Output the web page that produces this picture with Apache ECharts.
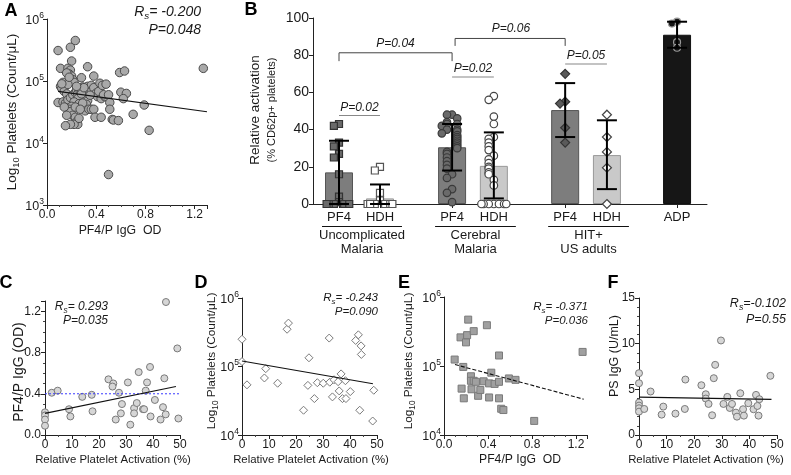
<!DOCTYPE html>
<html><head><meta charset="utf-8">
<script src="https://cdn.jsdelivr.net/npm/echarts@6/dist/echarts.min.js"></script>
<style>html,body{margin:0;padding:0;background:#fff}#c{width:791px;height:475px}</style>
</head><body><div id="c"></div>
<script>
// ---------------- DATA ----------------
// Panel A: PF4/P IgG OD vs platelets (count/uL)
const aPoints = [[0.09,3.1e5],[0.23,4.5e5],[0.19,3.5e5],[0.20,2.1e5],[0.11,1.6e5],[0.17,1.6e5],[0.19,1.5e5],[0.18,1.3e5],[0.20,1.2e5],[0.21,1.05e5],[0.19,1.0e5],[0.22,9.5e4],[0.13,9.5e4],[0.11,8.2e4],[0.12,7.6e4],[0.14,6.8e4],[0.16,6.2e4],[0.09,4.5e4],[0.13,4.6e4],[0.15,4.4e4],[0.17,5.0e4],[0.19,5.4e4],[0.21,6.0e4],[0.23,6.5e4],[0.24,7.2e4],[0.26,7.0e4],[0.25,6.2e4],[0.27,6.8e4],[0.29,8.0e4],[0.31,7.5e4],[0.33,8.2e4],[0.30,6.4e4],[0.28,5.6e4],[0.25,5.2e4],[0.22,4.6e4],[0.20,3.9e4],[0.18,3.5e4],[0.19,3.2e4],[0.21,2.8e4],[0.23,2.6e4],[0.24,2.2e4],[0.25,2.0e4],[0.22,2.0e4],[0.19,2.0e4],[0.15,1.9e4],[0.26,2.5e4],[0.28,1.13e5],[0.33,1.7e5],[0.38,1.2e5],[0.36,8.5e4],[0.34,6.6e4],[0.32,5.5e4],[0.33,4.8e4],[0.32,4.2e4],[0.31,3.3e4],[0.34,3.5e4],[0.36,3.5e4],[0.38,3.5e4],[0.39,2.6e4],[0.44,2.6e4],[0.36,6.8e4],[0.38,7.8e4],[0.40,6.4e4],[0.41,5.6e4],[0.42,6.8e4],[0.43,9.2e4],[0.44,5.2e4],[0.45,8.5e4],[0.47,5.6e4],[0.48,8.9e4],[0.46,6.0e4],[0.50,6.0e4],[0.51,4.5e4],[0.51,3.5e4],[0.53,2.4e4],[0.54,2.35e4],[0.58,2.3e4],[0.50,3.1e3],[0.59,1.37e5],[0.63,1.45e5],[0.60,6.6e4],[0.645,6.3e4],[0.62,5.2e4],[0.70,2.9e4],[0.79,4.1e4],[0.83,1.6e4],[1.27,1.6e5],[0.27,7.6e4],[0.28,6.2e4],[0.30,7.8e4],[0.26,4.3e4],[0.23,3.8e4],[0.35,5.9e4],[0.29,4.4e4],[0.17,8.8e4],[0.16,1.35e5],[0.18,1.15e5],[0.24,8.2e4],[0.14,3.8e4],[0.16,2.8e4],[0.27,3.5e4],[0.12,9.0e4]];
const aFit = [[0.09,6.8e4],[1.3,3.2e4]];
const aStats = ['-0.200','0.048'];

// Panel B: relative activation (% CD62p+ platelets)
const bCategories = ['PF4','HDH','PF4','HDH','PF4','HDH','ADP'];
const bGroups = [['Uncomplicated','Malaria'],['Cerebral','Malaria'],['HIT+','US adults']];
const bMeans = [17, 3, 30.5, 20.5, 50.5, 26.3, 91];
const bErrLow = [0, 0, 18, 3, 36, 8, 84];
const bErrHigh = [34, 10.5, 43, 38.5, 65, 45, 98];
const bPF4UM = [43, 42, 33, 31, 27, 25, 16, 4, 1, 0, 0, 0, 0, 0];
const bHDHUM = [20, 18, 6, 2, 0, 0, 0, 0, 0, 0, 0];
const bPF4CM = [48, 48, 46, 44, 43, 43, 42, 40, 40, 39, 38, 37, 36, 35, 34, 33, 32, 31, 30, 28, 27, 25, 23, 21, 19, 16, 14, 8, 6, 1];
const bHDHCM = [58, 56, 47, 43, 36, 35, 33, 31, 29, 26, 24, 22, 20, 19, 17, 16, 13, 10, 0, 0, 0, 0, 0, 0, 0];
const bPF4HIT = [70, 55, 54, 41, 33];
const bHDHHIT = [48, 36, 28, 19.5, 0];
const bADP = [98, 97, 87, 84];
const bPvalues = ['0.04','0.06','0.02','0.02','0.05'];

// Panel C: relative platelet activation (%) vs PF4/P IgG OD
const cPoints = [[0,0.22],[0,0.19],[0,0.15],[0,0.09],[2.5,0.41],[4.7,0.43],[8.9,0.25],[9.4,0.18],[13.8,0.37],[17.3,0.39],[17.6,0.23],[23.5,0.54],[25.3,0.5],[25,0.47],[26.2,0.15],[27.4,0.41],[28.5,0.30],[28.1,0.21],[30.7,0.51],[31.6,0.10],[33,0.26],[33,0.21],[34,0.31],[34.7,0.61],[36.3,0.25],[36.7,0.25],[37.3,0.43],[37.8,0.51],[38.9,0.66],[39.1,0.18],[40.7,0.34],[42.8,0.15],[43.7,0.27],[44.2,0.55],[44.7,0.20],[44.8,1.29],[49,0.84],[49.4,0.16]];
const cFit = [[0,0.21],[48.5,0.47]];
const cCutoff = 0.4;
const cStats = ['0.293','0.035'];

// Panel D: relative platelet activation (%) vs platelets
const dPoints = [[0,2.5e5],[0,1.18e5],[1.85,5.4e4],[8.3,6.8e4],[8.8,9.3e4],[13.2,5.7e4],[16.7,3.5e5],[17.2,4.3e5],[22.8,2.3e4],[24.4,5.3e4],[24.8,1.34e5],[26.8,3.4e4],[27.9,5.8e4],[30.1,5.7e4],[32.3,2.6e5],[32.5,5.9e4],[33.5,3.6e4],[34.1,6.4e4],[35.6,6.0e4],[36,4.4e4],[36.7,7.8e4],[37.2,3.4e4],[38.5,3.4e4],[38.3,6.2e4],[40.1,4.3e4],[42.1,2.4e5],[43.1,2.9e5],[43.6,2.3e4],[44.1,2.0e5],[44.2,1.5e5],[48.8,4.5e4],[48.4,1.6e4]];
const dFit = [[0,1.2e5],[48.5,5.6e4]];
const dStats = ['-0.243','0.090'];

// Panel E: PF4/P IgG OD vs platelets
const ePoints = [[0.097,1.24e5],[0.15,2.6e5],[0.20,2.2e5],[0.21,2.8e5],[0.22,4.7e5],[0.27,3.2e5],[0.39,3.9e5],[0.175,9.7e4],[0.16,4.7e4],[0.18,3.4e4],[0.245,7.1e4],[0.245,6.1e4],[0.27,6.1e4],[0.29,5.9e4],[0.25,4.6e4],[0.31,3.7e4],[0.33,4.5e4],[0.36,6.0e4],[0.41,5.6e4],[0.41,3.5e4],[0.43,8.0e4],[0.46,5.5e4],[0.50,5.9e4],[0.50,1.42e5],[0.50,3.4e4],[0.52,2.4e4],[0.54,2.3e4],[0.59,6.6e4],[0.65,6.3e4],[0.82,1.6e4],[1.26,1.6e5]];
const eFit = [[0.1,1.05e5],[1.27,3.3e4]];
const eStats = ['-0.371','0.036'];

// Panel F: relative platelet activation (%) vs PS IgG (U/mL)
const fPoints = [[0,6.77],[0,5.67],[0,3.55],[0,3.22],[0,2.93],[0,2.56],[1.9,2.85],[4.2,4.76],[8.2,2.23],[8.8,3.11],[13.2,2.34],[16.8,6.07],[16.6,2.85],[22.6,5.45],[24.2,4.46],[24.2,3.99],[25.2,3.40],[26.5,2.16],[27.1,6.22],[27.6,7.68],[29.7,10.35],[30.6,3.40],[32,4.17],[32.9,2.96],[33.7,3.40],[35.1,2.45],[35.5,2.01],[36.7,4.57],[37.7,2.82],[38,2.12],[39.6,3.48],[41.5,2.82],[42.4,4.39],[42.9,3.18],[43.3,2.12],[43.6,3.92],[47.6,6.48]];
const fFit = [[0,4.15],[48,3.9]];
const fStats = ['-0.102','0.55'];

// ---------------- LAYOUT / STYLE ----------------
const FF = '"Liberation Sans", Arial, Helvetica, sans-serif';
const TXT = '#1a1a1a';
const bPos = [0.66, 1.70, 3.53, 4.59, 6.40, 7.46, 9.24]; // slot layout on B's x-axis

const chart = echarts.init(document.getElementById('c'), null, {renderer: 'canvas'});

function axisBase(extra) {
  return Object.assign({
    axisLine: {show: true, onZero: false, lineStyle: {color: '#222', width: 1}},
    axisTick: {show: true, length: 4, lineStyle: {color: '#222'}},
    splitLine: {show: false},
    axisLabel: {color: TXT, fontFamily: FF, fontSize: 12, margin: 4},
  }, extra);
}
const logLabel = {
  color: TXT, fontFamily: FF, margin: 3,
  formatter: v => '{b|10}{s|' + Math.round(Math.log10(v)) + '}',
  rich: {
    b: {fontSize: 12.5, fontFamily: FF, color: TXT, lineHeight: 16, verticalAlign: 'bottom'},
    s: {fontSize: 8.5, fontFamily: FF, color: TXT, lineHeight: 10, verticalAlign: 'top'}
  }
};
const fix1 = v => v.toFixed(1);

// spread overlapping points of a column sideways (beeswarm-like), clamped to bar width
function jitter(vals, stepUnits, thr, maxOff) {
  const placed = [];
  return vals.map(v => {
    const k = placed.filter(p => Math.abs(p - v) < thr).length;
    placed.push(v);
    let off = k === 0 ? 0 : (k % 2 ? -1 : 1) * Math.ceil(k / 2) * stepUnits;
    if (Math.abs(off) > maxOff) {
      const s = Math.sign(off);
      off = s * (maxOff - ((Math.abs(off) - maxOff) % maxOff) * 0.5);
    }
    return off;
  });
}
function bScatter(vals, slot, symbol, size, fill, stroke) {
  const off = jitter(vals, 0.13, 2.4, 0.34);
  return {
    type: 'scatter', xAxisIndex: 1, yAxisIndex: 1, symbol, symbolSize: size, z: 4,
    itemStyle: {color: fill, borderColor: stroke, borderWidth: 1.2, opacity: 1},
    data: vals.map((v, i) => [bPos[slot] + off[i], v]), silent: true
  };
}
function scat(idx, pts, symbol, size, fill, stroke) {
  return {type: 'scatter', xAxisIndex: idx, yAxisIndex: idx, symbol, symbolSize: size,
    itemStyle: {color: fill, borderColor: stroke, borderWidth: 1, opacity: 1}, data: pts, silent: true, clip: false};
}
function fit(idx, pts, type) {
  return {type: 'line', xAxisIndex: idx, yAxisIndex: idx, data: pts, symbol: 'none', silent: true,
    lineStyle: {color: '#111', width: 1.1, type: type || 'solid'}, z: 5};
}

const barColors = ['#7d7d7d', '#c9c9c9', '#7d7d7d', '#c9c9c9', '#7d7d7d', '#c9c9c9', '#161616'];
const barBorders = ['#555', '#999', '#555', '#999', '#555', '#999', '#111'];

const option = {
  animation: false,
  backgroundColor: '#fff',
  textStyle: {fontFamily: FF},
  grid: [
    {left: 47, top: 19, width: 160, height: 186},
    {left: 313, top: 18, width: 394, height: 186},
    {left: 45, top: 301, width: 135, height: 134},
    {left: 242, top: 298, width: 135, height: 137},
    {left: 444, top: 297, width: 143, height: 138},
    {left: 639, top: 298, width: 138, height: 137}
  ],
  xAxis: [
    axisBase({gridIndex: 0, type: 'value', min: 0, max: 1.3, interval: 0.4,
      minorTick: {show: true, splitNumber: 4, length: 2, lineStyle: {color: '#444'}},
      axisLabel: {color: TXT, fontFamily: FF, fontSize: 12, margin: 4, formatter: fix1}}),
    axisBase({gridIndex: 1, type: 'value', min: 0, max: 10,
      axisTick: {show: true, length: 4, customValues: bPos, lineStyle: {color: '#222'}},
      axisLabel: {color: TXT, fontFamily: FF, fontSize: 13, margin: 7, customValues: bPos,
        formatter: v => { const i = bPos.findIndex(p => Math.abs(p - v) < 1e-6); return i >= 0 ? bCategories[i] : ''; }}}),
    axisBase({gridIndex: 2, type: 'value', min: 0, max: 50, interval: 10,
      minorTick: {show: true, splitNumber: 2, length: 2, lineStyle: {color: '#444'}}}),
    axisBase({gridIndex: 3, type: 'value', min: 0, max: 50, interval: 10,
      minorTick: {show: true, splitNumber: 2, length: 2, lineStyle: {color: '#444'}}}),
    axisBase({gridIndex: 4, type: 'value', min: 0, max: 1.3, interval: 0.4,
      minorTick: {show: true, splitNumber: 4, length: 2, lineStyle: {color: '#444'}},
      axisLabel: {color: TXT, fontFamily: FF, fontSize: 12, margin: 4, formatter: fix1}}),
    axisBase({gridIndex: 5, type: 'value', min: 0, max: 50, interval: 10,
      minorTick: {show: true, splitNumber: 2, length: 2, lineStyle: {color: '#444'}}})
  ],
  yAxis: [
    axisBase({gridIndex: 0, type: 'log', logBase: 10, min: 1e3, max: 1e6, axisLabel: logLabel}),
    axisBase({gridIndex: 1, type: 'value', min: 0, max: 100, interval: 20,
      axisLabel: {color: TXT, fontFamily: FF, fontSize: 14, margin: 4}}),
    axisBase({gridIndex: 2, type: 'value', min: 0, max: 1.3, interval: 0.4,
      minorTick: {show: true, splitNumber: 4, length: 2, lineStyle: {color: '#444'}},
      axisLabel: {color: TXT, fontFamily: FF, fontSize: 12, margin: 4, formatter: fix1}}),
    axisBase({gridIndex: 3, type: 'log', logBase: 10, min: 1e4, max: 1e6, axisLabel: logLabel}),
    axisBase({gridIndex: 4, type: 'log', logBase: 10, min: 1e4, max: 1e6, axisLabel: logLabel}),
    axisBase({gridIndex: 5, type: 'value', min: 0, max: 15, interval: 5,
      minorTick: {show: true, splitNumber: 5, length: 2, lineStyle: {color: '#444'}}})
  ],
  series: [
    // A
    scat(0, aPoints, 'circle', 8.5, '#a9a9a9', '#4a4a4a'),
    fit(0, aFit),
    // B bars
    {type: 'bar', xAxisIndex: 1, yAxisIndex: 1, barWidth: 28, z: 2, silent: true,
      data: bMeans.map((v, i) => ({value: [bPos[i], v], itemStyle: {color: barColors[i], borderColor: barBorders[i], borderWidth: 1}}))},
    bScatter(bPF4UM, 0, 'rect', 7, '#6a6a6a', '#333'),
    bScatter(bHDHUM, 1, 'rect', 7, '#fff', '#555'),
    bScatter(bPF4CM, 2, 'circle', 7.5, '#6a6a6a', '#3a3a3a'),
    bScatter(bHDHCM, 3, 'circle', 7.5, '#fff', '#444'),
    bScatter(bPF4HIT, 4, 'diamond', 9, '#5a5a5a', '#333'),
    bScatter(bHDHHIT, 5, 'diamond', 9, '#fff', '#444'),
    bScatter(bADP, 6, 'circle', 7, '#161616', '#999'),
    {type: 'custom', xAxisIndex: 1, yAxisIndex: 1, z: 6, silent: true,
      data: bPos.map((p, i) => [p, bErrLow[i], bErrHigh[i]]),
      renderItem(params, api) {
        const x = api.value(0);
        const lo = api.coord([x, api.value(1)]);
        const hi = api.coord([x, api.value(2)]);
        const w = 10;
        const st = {stroke: '#000', lineWidth: 2};
        return {type: 'group', children: [
          {type: 'line', shape: {x1: lo[0], y1: lo[1], x2: hi[0], y2: hi[1]}, style: st},
          {type: 'line', shape: {x1: hi[0] - w, y1: hi[1], x2: hi[0] + w, y2: hi[1]}, style: st},
          {type: 'line', shape: {x1: lo[0] - w, y1: lo[1], x2: lo[0] + w, y2: lo[1]}, style: st}
        ]};
      }},
    // C
    {type: 'line', xAxisIndex: 2, yAxisIndex: 2, data: [[0, cCutoff], [50, cCutoff]], symbol: 'none', silent: true,
      lineStyle: {color: '#3a3aff', width: 1, type: [2, 2]}},
    scat(2, cPoints, 'circle', 7, '#d6d6d6', '#7a7a7a'),
    fit(2, cFit),
    // D
    scat(3, dPoints, 'diamond', 8, '#fff', '#7a7a7a'),
    fit(3, dFit),
    // E
    scat(4, ePoints, 'rect', 7, '#a0a0a0', '#7a7a7a'),
    fit(4, eFit, [4, 2]),
    // F
    scat(5, fPoints, 'circle', 7, '#d6d6d6', '#7a7a7a'),
    fit(5, fFit)
  ]
};
chart.setOption(option);

// ---------------- TEXT / ANNOTATIONS ----------------
const g = [];
function text(x, y, str, size, opts) {
  g.push({type: 'text', x, y, silent: true, rotation: (opts && opts.rot) || 0,
    style: Object.assign({text: str, fill: TXT, font: `${(opts && opts.weight) || 'normal'} ${size}px ${FF}`,
      align: (opts && opts.align) || 'center', verticalAlign: 'middle'}, (opts && opts.style) || {})});
}
function richText(x, y, str, rich, opts) {
  g.push({type: 'text', x, y, silent: true, rotation: (opts && opts.rot) || 0,
    style: {text: str, rich, align: (opts && opts.align) || 'center', verticalAlign: 'middle', fill: TXT}});
}
function logTitle(x, y, size) {
  richText(x, y, '{n|Log}{sub|10}{n| Platelets (Count/μL)}', {
    n: {fontSize: size, fontFamily: FF, fill: TXT, lineHeight: size + 4, verticalAlign: 'middle'},
    sub: {fontSize: size * 0.7, fontFamily: FF, fill: TXT, lineHeight: size * 0.7, verticalAlign: 'bottom'}
  }, {rot: Math.PI / 2});
}
function stats(xRight, y1, y2, size, rs, p, noSpace) {
  const rich = {
    i: {fontSize: size, fontStyle: 'italic', fontFamily: FF, fill: TXT, lineHeight: size + 4, verticalAlign: 'middle'},
    sub: {fontSize: size * 0.7, fontStyle: 'italic', fontFamily: FF, fill: TXT, lineHeight: size * 0.7, verticalAlign: 'bottom'}
  };
  richText(xRight, y1, '{i|R}{sub|s}{i|=' + (noSpace ? '' : ' ') + rs + '}', rich, {align: 'right'});
  richText(xRight, y2, '{i|P=' + p + '}', rich, {align: 'right'});
}

// Panel letters
[['A', 11, 11], ['B', 251, 10], ['C', 6, 283], ['D', 201, 283], ['E', 404, 283], ['F', 613, 283]]
  .forEach(([l, x, y]) => text(x, y, l, 18, {weight: 'bold', style: {fill: '#000'}}));

// Panel A
logTitle(12, 112, 13.5);
text(120, 231, 'PF4/P IgG  OD', 12.3);
stats(201, 12, 30, 14, aStats[0], aStats[1]);

// Panel B
text(255, 110, 'Relative activation', 13.5, {rot: Math.PI / 2});
text(272, 110, '(% CD62p+ platelets)', 11, {rot: Math.PI / 2});
const P = (x, y) => chart.convertToPixel({gridIndex: 1}, [x, y]);
const groupSpans = [[0, 1], [2, 3], [4, 5]];
groupSpans.forEach(([a, b], gi) => {
  const xa = P(bPos[a], 0)[0] - 17, xb = P(bPos[b], 0)[0] + 22;
  g.push({type: 'line', silent: true, shape: {x1: xa, y1: 226.5, x2: xb, y2: 226.5}, style: {stroke: '#111', lineWidth: 1.2}});
  const cx = (xa + xb) / 2;
  text(cx, 235, bGroups[gi][0], 13);
  text(cx, 249, bGroups[gi][1], 13);
});
function bracket(i, j, yv, drop, label, labelY, labelX) {
  const a = P(bPos[i], yv), b = P(bPos[j], yv), a2 = P(bPos[i], yv - drop);
  g.push({type: 'polyline', silent: true, shape: {points: [[a[0], a2[1]], [a[0], a[1]], [b[0], b[1]], [b[0], a2[1]]]},
    style: {stroke: '#444', lineWidth: 1, fill: null}});
  text(labelX != null ? labelX : (a[0] + b[0]) / 2, labelY, 'P=' + label, 12, {style: {font: `italic 12px ${FF}`}});
}
bracket(0, 2, 81.3, 4.5, bPvalues[0], 44);
function underline(i, j, yPix, label) {
  const a = P(bPos[i], 0)[0], b = P(bPos[j], 0)[0];
  g.push({type: 'line', silent: true, shape: {x1: a, y1: yPix, x2: b, y2: yPix}, style: {stroke: '#888', lineWidth: 1.2}});
  text((a + b) / 2, yPix - 8, 'P=' + label, 12, {style: {font: `italic 12px ${FF}`}});
}
underline(0, 1, 115.5, bPvalues[2]);
underline(2, 3, 77, bPvalues[3]);
underline(4, 5, 64, bPvalues[4]);
// P=0.06 bracket from CM PF4 to HIT PF4
(function () {
  const a = P(bPos[2], 89), b = P(bPos[4], 89), d = P(bPos[2], 85);
  const xa = a[0] + 3;
  g.push({type: 'polyline', silent: true, shape: {points: [[xa, d[1]], [xa, a[1]], [b[0], b[1]], [b[0], d[1]]]},
    style: {stroke: '#444', lineWidth: 1, fill: null}});
  text(511, 29, 'P=' + bPvalues[1], 12, {style: {font: `italic 12px ${FF}`}});
})();

// Panel C
text(19, 372, 'PF4/P IgG (OD)', 14, {rot: Math.PI / 2});
text(113, 460, 'Relative Platelet Activation (%)', 11.4);
stats(108, 307, 321, 12, cStats[0], cStats[1]);

// Panel D
logTitle(212, 361, 11.8);
text(311, 460, 'Relative Platelet Activation (%)', 11.4);
stats(378, 298, 312, 11.5, dStats[0], dStats[1]);

// Panel E
logTitle(409, 361, 11.8);
text(520, 460, 'PF4/P IgG  OD', 12.2);
stats(588, 307, 321, 11.5, eStats[0], eStats[1]);

// Panel F
text(615, 356, 'PS IgG (U/mL)', 12.5, {rot: Math.PI / 2});
text(706, 460, 'Relative Platelet Activation (%)', 11.4);
stats(786, 304, 320, 12.5, fStats[0], fStats[1], true);

chart.setOption({graphic: g});
</script>
</body></html>
